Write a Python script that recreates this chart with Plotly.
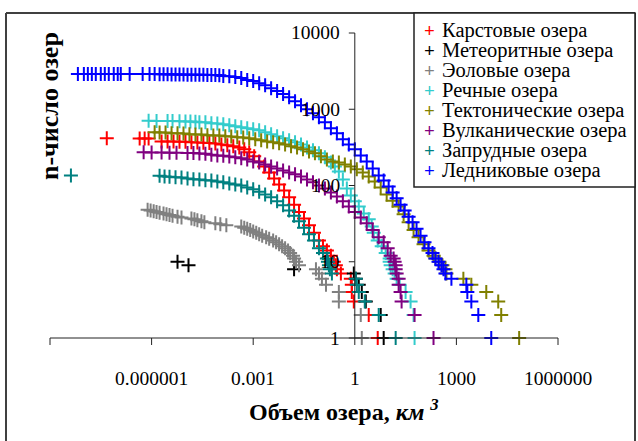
import math
import plotly.graph_objects as go

W, H = 638, 441

# ---------------- data (volume km^3, rank count) ----------------
karst_v = [4.75e-8, 4.44e-7, 6.23e-7, 8.16e-7, 1.97e-6, 2.96e-6, 4.44e-6, 6.66e-6, 1.0e-5, 1.5e-5,
           2.25e-5, 3.38e-5, 5.08e-5, 7.63e-5, 1.15e-4, 1.72e-4, 2.58e-4, 3.88e-4, 5.44e-4, 7.63e-4,
           1.07e-3, 1.5e-3, 2.11e-3, 2.96e-3, 4.15e-3, 5.82e-3, 8.16e-3, 1.15e-2, 1.61e-2, 2.25e-2,
           3.16e-2, 4.44e-2, 6.23e-2, 8.74e-2, 0.115, 0.150, 0.197, 0.241, 0.276, 0.296,
           0.388, 0.763, 0.816, 0.816, 0.935, 2.58, 4.75]
karst_n = [415, 414, 413, 412, 379, 378, 377, 376, 375, 368,
           366, 364, 362, 355, 346, 337, 326, 316, 298, 272,
           241, 207, 178, 148, 124, 103, 86, 70, 56, 45,
           37, 30, 24, 19, 16, 14, 12, 10, 9, 8,
           7, 6, 5, 4, 3, 2, 1]

meteor_v = [5.82e-6, 1.23e-5, 1.61e-2, 0.935, 1.07, 1.31, 1.61, 2.11, 5.82, 7.13]
meteor_n = [10, 9, 8, 7, 6, 5, 4, 3, 2, 1]

eolian_v = [7.63e-7, 9.35e-7, 1.15e-6, 1.40e-6, 1.72e-6, 2.25e-6, 2.76e-6, 3.38e-6, 4.15e-6, 5.82e-6,
            7.63e-6, 1.5e-5, 1.84e-5, 2.25e-5, 2.96e-5, 3.62e-5, 7.63e-5, 1.07e-4, 1.61e-4, 4.44e-4,
            5.44e-4, 6.66e-4, 8.16e-4, 1.0e-3, 1.23e-3, 1.5e-3, 1.84e-3, 2.41e-3, 2.96e-3, 3.88e-3,
            4.75e-3, 5.82e-3, 7.13e-3, 8.74e-3, 1.07e-2, 1.23e-2, 1.5e-2, 1.61e-2, 1.84e-2, 2.25e-2,
            7.13e-2, 8.74e-2, 0.107, 0.141, 0.338, 0.338, 1.5, 1.61]
eolian_n = [48, 47, 46, 45, 44, 43, 42, 41, 40, 39,
            38, 37, 36, 35, 34, 33, 32, 31, 30, 29,
            28, 27, 26, 25, 24, 23, 22, 21, 20, 19,
            18, 17, 16, 15, 14, 13, 12, 11, 10, 9,
            8, 7, 6, 5, 4, 3, 2, 1]

river_v = [8.16e-7, 1.40e-6, 2.96e-6, 4.15e-6, 6.66e-6, 1.0e-5, 1.40e-5, 1.97e-5,
           2.58e-5, 3.88e-5, 5.82e-5, 8.74e-5, 1.31e-4, 1.97e-4, 2.96e-4, 4.44e-4, 6.66e-4, 1.0e-3,
           1.5e-3, 2.25e-3, 3.38e-3, 5.08e-3, 7.63e-3, 1.15e-2, 1.72e-2, 2.58e-2, 3.88e-2, 5.82e-2,
           8.74e-2, 0.131, 0.197, 0.258, 0.338, 0.444, 0.582, 0.763, 1.0, 1.31,
           1.84, 2.58, 3.16, 3.62, 4.75, 6.23, 8.16, 10.7, 10.7, 11.45,
           13.1, 15.0, 17.2, 21.1, 31.6, 44.4, 54.4, 58.2]
river_n = [705, 703, 701, 699, 697, 693, 689, 685,
           675, 673, 655, 652, 635, 617, 598, 580, 562, 545,
           530, 498, 469, 441, 415, 391, 368, 346, 316, 289,
           264, 234, 201, 178, 153, 120, 91, 74, 62, 53,
           43, 36, 29, 24, 19, 16, 13, 11, 10, 9,
           8, 7, 6, 5, 4, 3, 2, 1]

tecton_v = [1.23e-6, 1.72e-6, 2.58e-6, 3.88e-6, 5.82e-6, 8.74e-6, 1.31e-5, 1.97e-5, 2.96e-5, 4.44e-5,
            6.66e-5, 1.0e-4, 1.5e-4, 2.25e-4, 3.38e-4, 5.08e-4, 7.63e-4, 1.15e-3, 1.72e-3, 2.58e-3,
            3.88e-3, 5.82e-3, 8.74e-3, 1.31e-2, 1.97e-2, 2.96e-2, 4.44e-2, 6.66e-2, 0.1, 0.15,
            0.225, 0.338, 0.508, 0.763, 1.145, 1.72, 2.58, 3.88, 5.82, 8.74,
            13.1, 19.7, 27.6, 38.8, 54.4, 76.3, 107, 150, 211, 241,
            316, 388, 475, 508, 1606, 2762, 7628, 17190, 21060, 71290]
tecton_n = [498, 497, 496, 485, 483, 481, 470, 468, 466, 456,
            454, 452, 441, 439, 428, 426, 415, 403, 391, 379,
            368, 357, 346, 326, 316, 298, 280, 265, 241, 220,
            207, 200, 189, 178, 163, 148, 131, 113, 94, 76,
            63, 53, 42, 33, 26, 21, 17, 14, 12, 11,
            10, 9, 8, 7, 6, 5, 4, 3, 2, 1]

volcan_v = [5.82e-7, 1.0e-6, 1.97e-6, 3.38e-6, 5.44e-6, 1.15e-5, 1.72e-5, 2.58e-5, 3.88e-5, 5.82e-5,
            8.74e-5, 1.31e-4, 1.97e-4, 2.96e-4, 4.44e-4, 6.66e-4, 1.0e-3, 1.5e-3, 2.25e-3, 3.38e-3,
            5.08e-3, 7.63e-3, 1.15e-2, 1.72e-2, 2.58e-2, 3.88e-2, 5.82e-2, 8.74e-2, 0.131, 0.197,
            0.296, 0.444, 0.666, 1.0, 1.5, 2.25, 3.38, 5.08, 7.13, 9.35,
            11.45, 14.0, 15.0, 16.1, 16.1, 17.2, 19.7, 19.7, 22.5, 24.1,
            58.2, 211]
volcan_n = [272, 271, 270, 269, 268, 267, 266, 262, 260, 254,
            248, 246, 240, 234, 227, 220, 207, 201, 189, 178,
            167, 157, 148, 140, 131, 120, 110, 100, 91, 81,
            72, 62, 53, 45, 38, 32, 26, 21, 18, 15,
            12, 11, 10, 9, 8, 7, 6, 5, 4, 3,
            2, 1]

dam_v = [4.15e-9, 1.72e-6, 2.41e-6, 3.38e-6, 5.08e-6, 7.63e-6, 1.15e-5, 1.72e-5, 2.58e-5, 3.88e-5,
         5.82e-5, 8.74e-5, 1.31e-4, 1.97e-4, 2.96e-4, 4.44e-4, 6.66e-4, 1.0e-3, 1.5e-3, 2.25e-3,
         3.38e-3, 5.08e-3, 7.63e-3, 1.15e-2, 1.61e-2, 2.25e-2, 3.16e-2, 4.44e-2, 6.23e-2, 8.74e-2,
         0.115, 0.150, 0.161, 0.172, 0.184, 0.211, 1.07, 1.145, 1.31, 1.97,
         5.08, 16.1]
dam_n = [135, 134, 131, 130, 128, 127, 124, 121, 120, 117,
         116, 113, 110, 106, 103, 100, 94, 89, 83, 76,
         70, 62, 55, 47, 40, 34, 28, 23, 19, 15,
         13, 11, 10, 9, 8, 7, 6, 5, 4, 3,
         2, 1]

glacier_v = [6.66e-9, 1.0e-8, 1.31e-8, 1.72e-8, 2.25e-8, 3.16e-8, 4.15e-8, 5.44e-8, 7.63e-8, 1.0e-7,
             1.23e-7, 2.25e-7, 5.44e-7, 8.7e-7, 1.23e-6, 1.72e-6, 2.25e-6, 2.96e-6, 3.88e-6, 5.08e-6,
             6.66e-6, 8.74e-6, 1.15e-5, 1.50e-5, 1.97e-5, 2.58e-5, 3.38e-5, 4.44e-5, 5.82e-5, 7.63e-5,
             1.0e-4, 1.31e-4, 1.97e-4, 2.96e-4, 4.44e-4, 6.66e-4, 1.0e-3, 1.5e-3, 2.25e-3, 3.38e-3,
             5.08e-3, 7.63e-3, 1.15e-2, 1.72e-2, 2.58e-2, 3.88e-2, 5.82e-2, 8.74e-2, 0.131, 0.197,
             0.296, 0.444, 0.666, 1.0, 1.5, 2.25, 3.38, 5.08, 7.13, 10.0,
             13.1, 17.2, 22.5, 29.6, 38.8, 50.8, 66.6, 87.4, 114.5, 150,
             197, 241, 296, 362, 415, 475, 713, 1968, 2106, 2762,
             4437, 10700]
glacier_n = [2905, 2904, 2903, 2902, 2901, 2900, 2899, 2898, 2897, 2896,
             2895, 2894, 2893, 2892, 2890, 2880, 2875, 2870, 2865, 2860,
             2855, 2850, 2845, 2840, 2835, 2830, 2825, 2820, 2815, 2810,
             2800, 2720, 2710, 2640, 2560, 2410, 2340, 2200, 2070, 1890,
             1730, 1580, 1440, 1270, 1130, 1000, 888, 786, 675, 562,
             483, 403, 346, 298, 248, 207, 167, 135, 116, 97,
             81, 68, 56, 47, 39, 33, 27, 22, 18, 15,
             13, 11, 10, 9, 8, 7, 6, 5, 4, 3,
             2, 1]

series_names = ["Карстовые озера", "Метеоритные озера", "Эоловые озера", "Речные озера",
                "Тектонические озера", "Вулканические озера", "Запрудные озера", "Ледниковые озера"]
series_colors = ["#FF0000", "#000000", "#808080", "#33CCCC",
                 "#808000", "#800080", "#008080", "#0000FF"]
series_x = [karst_v, meteor_v, eolian_v, river_v, tecton_v, volcan_v, dam_v, glacier_v]
series_y = [karst_n, meteor_n, eolian_n, river_n, tecton_n, volcan_n, dam_n, glacier_n]

x_tick_all = [1e-9, 1e-6, 1e-3, 1, 1e3, 1e6]
x_tickvals = [1e-6, 1e-3, 1, 1e3, 1e6]
x_ticktext = ["0.000001", "0.001", "1", "1000", "1000000"]
y_tickvals = [1, 10, 100, 1000, 10000]
y_ticktext = ["1", "10", "100", "1000", "10000"]

FONT = "Liberation Serif, Times New Roman, Times, serif"
AX = "#222222"

fig = go.Figure()
for name, col, xs, ys in zip(series_names, series_colors, series_x, series_y):
    fig.add_trace(go.Scatter(
        x=xs, y=ys, mode="markers", name=name, cliponaxis=False, showlegend=False,
        marker=dict(symbol="cross-thin", size=10, color=col, line=dict(color=col, width=2)),
    ))

# layout geometry (pixels -> paper)
px_left, px_right = 50, 558
py_top, py_bottom = 33, 338
xd0, xd1 = px_left / W, px_right / W
yd0, yd1 = (H - py_bottom) / H, (H - py_top) / H
xmin, xmax = -9, 6
ymin, ymax = 0, 4


def xpaper(v):
    return xd0 + (xd1 - xd0) * (math.log10(v) - xmin) / (xmax - xmin)


def ypaper(v):
    return yd0 + (yd1 - yd0) * (math.log10(v) - ymin) / (ymax - ymin)


ypos = xpaper(1)  # the value axis crosses the volume axis at 1 km^3

fig.update_layout(
    width=W, height=H, autosize=False,
    margin=dict(l=0, r=0, t=0, b=0),
    plot_bgcolor="white", paper_bgcolor="white",
    showlegend=False,
    font=dict(family=FONT, color="black"),
    xaxis=dict(type="log", range=[xmin, xmax], domain=[xd0, xd1], anchor="y",
               visible=False, fixedrange=True),
    yaxis=dict(type="log", range=[ymin, ymax], domain=[yd0, yd1], anchor="x",
               visible=False, fixedrange=True),
)

# axis lines, ticks and tick labels, placed on the axes' own log scales
fig.add_shape(type="line", xref="paper", yref="paper", x0=xd0, x1=xd1, y0=yd0, y1=yd0,
              line=dict(color=AX, width=1))
fig.add_shape(type="line", xref="paper", yref="paper", x0=ypos, x1=ypos, y0=yd0, y1=yd1,
              line=dict(color=AX, width=1))
for v in x_tick_all:
    fig.add_shape(type="line", xref="paper", yref="paper", x0=xpaper(v), x1=xpaper(v),
                  y0=yd0, y1=yd0 - 7 / H, line=dict(color=AX, width=1))
for v, t in zip(x_tickvals, x_ticktext):
    fig.add_annotation(x=xpaper(v), y=yd0 - 28 / H, xref="paper", yref="paper", text=t,
                       showarrow=False, xanchor="center", yanchor="top",
                       font=dict(family=FONT, size=19.5, color="black"))
for v, t in zip(y_tickvals, y_ticktext):
    fig.add_shape(type="line", xref="paper", yref="paper", x0=ypos - 6 / W, x1=ypos,
                  y0=ypaper(v), y1=ypaper(v), line=dict(color=AX, width=1))
    fig.add_annotation(x=ypos - 13 / W, y=ypaper(v), xref="paper", yref="paper", text=t,
                       showarrow=False, xanchor="right", yanchor="middle",
                       font=dict(family=FONT, size=19.5, color="black"))

# chart border (left, top, right) and legend box
top_y = (H - 13) / H
for (xa, ya, xb, yb) in [(6 / W, 0, 6 / W, top_y), (6 / W, top_y, 635 / W, top_y), (635 / W, top_y, 635 / W, 0)]:
    fig.add_shape(type="line", xref="paper", yref="paper", x0=xa, y0=ya, x1=xb, y1=yb,
                  line=dict(color="#404040", width=2))
fig.add_shape(type="rect", xref="paper", yref="paper", x0=414 / W, x1=635 / W,
              y0=(H - 187) / H, y1=top_y, line=dict(color=AX, width=1.5),
              fillcolor="white", layer="above")

# legend entries (real text)
for i, (name, col) in enumerate(zip(series_names, series_colors)):
    yc = (H - (30.5 + 20 * i)) / H
    fig.add_annotation(x=429 / W, y=yc, xref="paper", yref="paper", text="<b>+</b>",
                       showarrow=False, xanchor="center", yanchor="middle",
                       font=dict(family=FONT, size=19, color=col))
    fig.add_annotation(x=440 / W, y=yc, xref="paper", yref="paper", text=name,
                       showarrow=False, xanchor="left", yanchor="middle",
                       font=dict(family=FONT, size=20.5, color="black"))

# axis titles
fig.add_annotation(x=50 / W, y=(H - 106) / H, xref="paper", yref="paper",
                   text="<b>n-число озер</b>", textangle=-90, showarrow=False,
                   xanchor="center", yanchor="middle", font=dict(family=FONT, size=26, color="black"))
fig.add_annotation(x=344 / W, y=(H - 410) / H, xref="paper", yref="paper",
                   text="<b>Объем озера, <i>км</i> <sup><i>3</i></sup></b>", showarrow=False,
                   xanchor="center", yanchor="middle", font=dict(family=FONT, size=24, color="black"))

fix_page = ("document.documentElement.style.margin='0';document.body.style.margin='0';"
            "document.body.style.padding='0';")
fig.write_html("out.html", post_script=fix_page, config={"displayModeBar": False})
